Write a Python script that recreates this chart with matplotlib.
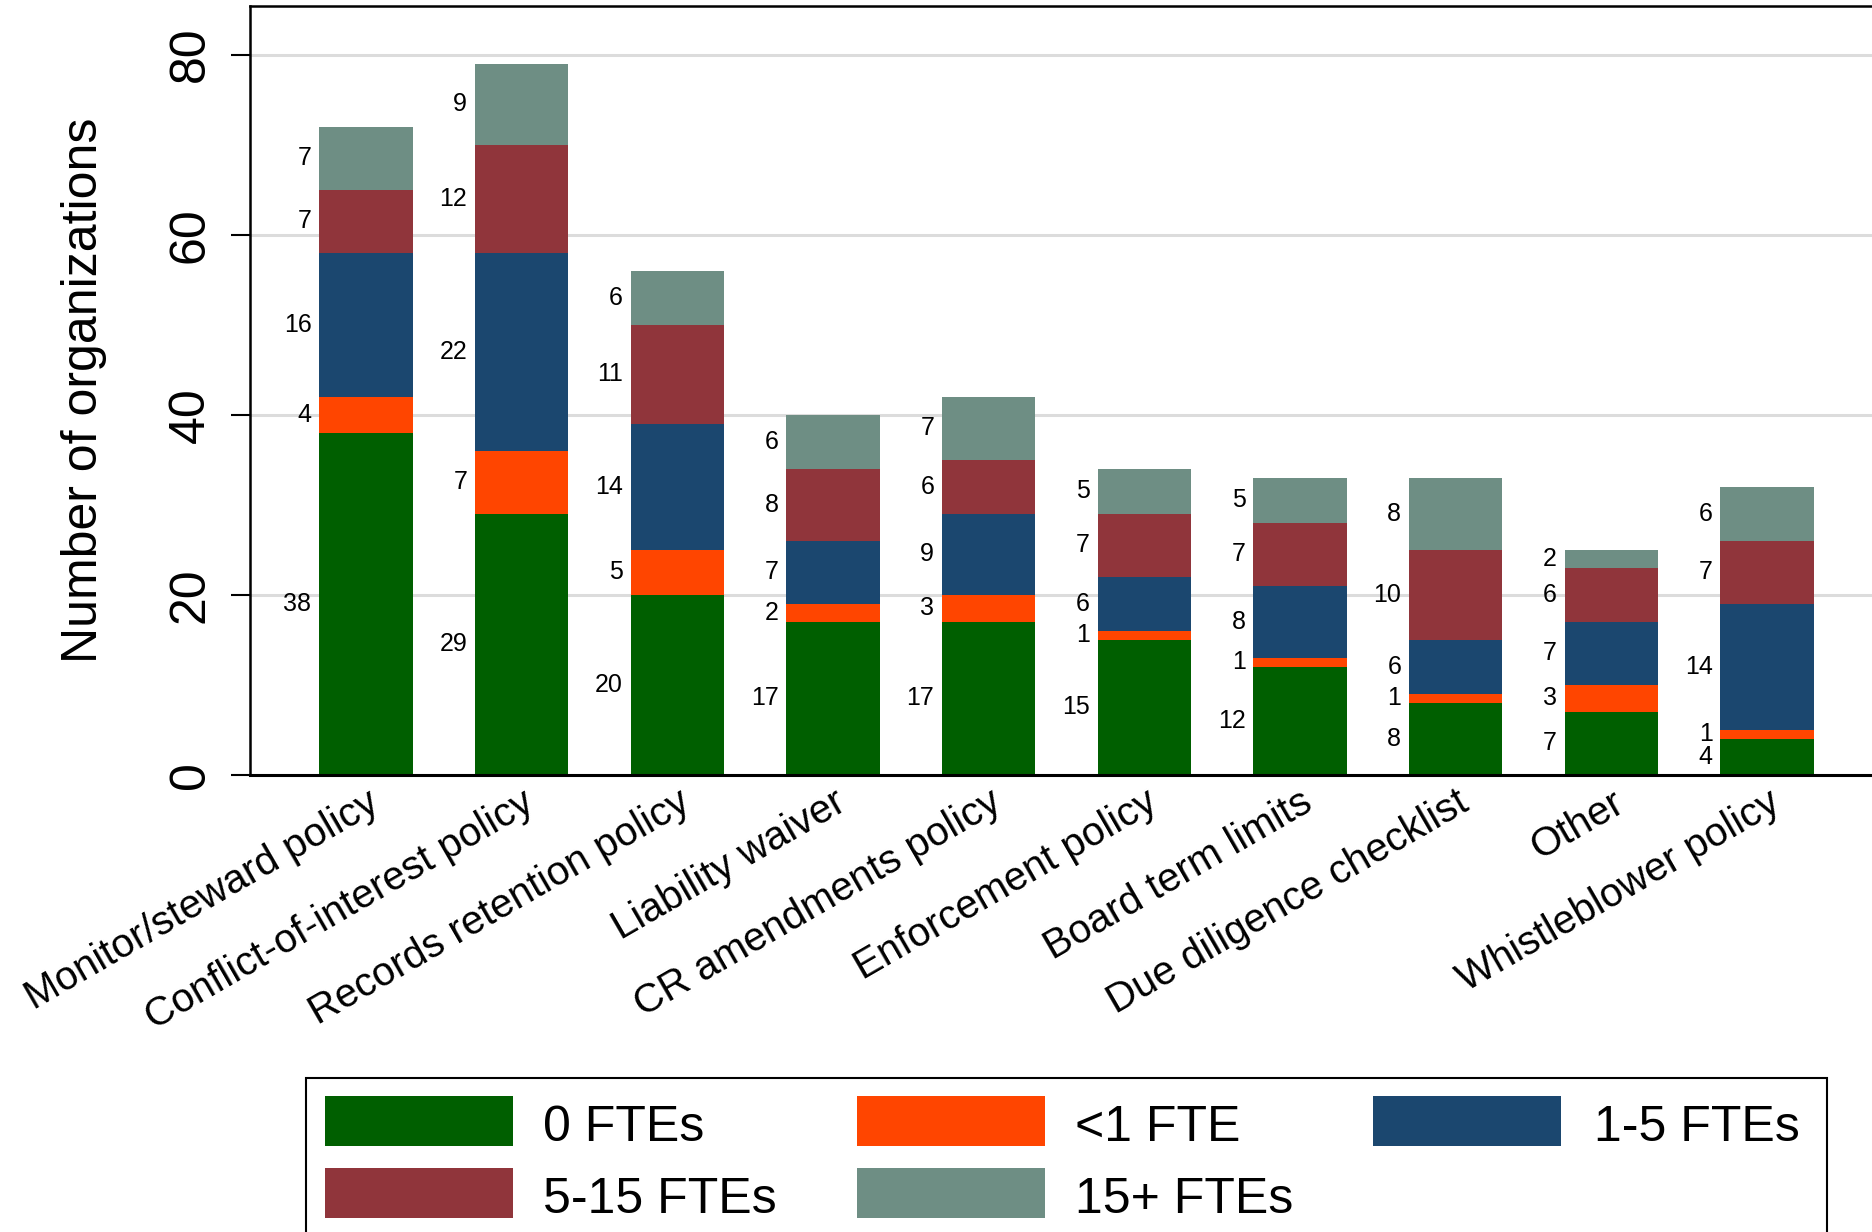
import numpy as np
import matplotlib
matplotlib.use("Agg")
import matplotlib.pyplot as plt
from matplotlib.patches import Rectangle

plt.rcParams['font.family'] = ['Liberation Sans', 'DejaVu Sans']

categories = ['Monitor/steward policy', 'Conflict-of-interest policy', 'Records retention policy',
              'Liability waiver', 'CR amendments policy', 'Enforcement policy',
              'Board term limits', 'Due diligence checklist', 'Other', 'Whistleblower policy']
series_names = ['0 FTEs', '<1 FTE', '1-5 FTEs', '5-15 FTEs', '15+ FTEs']
fte_0 = [38, 29, 20, 17, 17, 15, 12, 8, 7, 4]
fte_lt1 = [4, 7, 5, 2, 3, 1, 1, 1, 3, 1]
fte_1_5 = [16, 22, 14, 7, 9, 6, 8, 6, 7, 14]
fte_5_15 = [7, 12, 11, 8, 6, 7, 7, 10, 6, 7]
fte_15p = [7, 9, 6, 6, 7, 5, 5, 8, 2, 6]
colors = ['#005F00', '#FF4500', '#1B476F', '#90353B', '#6E8E84']

W, H = 1872, 1232
fig = plt.figure(figsize=(W / 100, H / 100), dpi=100)
ax = fig.add_axes([250 / W, 457 / H, (1883 - 250) / W, (775 - 6) / H])

x = np.arange(len(categories))
bottom = np.zeros(len(categories))
for name, vals, col in zip(series_names, [fte_0, fte_lt1, fte_1_5, fte_5_15, fte_15p], colors):
    vals = np.array(vals, dtype=float)
    ax.bar(x, vals, width=0.6, bottom=bottom, color=col, label=name, zorder=2)
    for xi, b, v in zip(x, bottom, vals):
        ax.text(xi - 0.35, b + v / 2, f'{int(v)}', ha='right', va='center', fontsize=18,
                family=['Liberation Sans Narrow', 'Liberation Sans'])
    bottom += vals

ax.set_xlim(-0.745, len(categories) - 1 + 0.745)
ax.set_ylim(0, 85.4)
ax.set_yticks([0, 20, 40, 60, 80])
ax.set_yticklabels(['0', '20', '40', '60', '80'], rotation=90, va='center', fontsize=36)
ax.tick_params(axis='y', length=14, width=1.5, pad=12)
ax.set_xticks(x)
ax.set_xticklabels(categories, rotation=30, ha='right', rotation_mode='anchor', fontsize=29)
ax.tick_params(axis='x', length=0, pad=6)
ax.yaxis.grid(True, color='#dcdcdc', linewidth=2.2, zorder=0)
ax.set_axisbelow(True)
ax.spines['right'].set_visible(False)
for s in ['left', 'top']:
    ax.spines[s].set_linewidth(1.8)
ax.spines['bottom'].set_linewidth(2.2)

ax.set_ylabel('Number of organizations', fontsize=36, va='center')
ax.yaxis.set_label_coords(-166 / (1883 - 250), 0.5)

# legend box, drawn by hand so that it runs off the bottom like the original
fig.patches.append(Rectangle((306 / W, -0.05), (1827 - 306) / W, (1232 - 1078) / H + 0.05,
                             transform=fig.transFigure, fill=False, edgecolor='black', linewidth=1.5))
patch_x = [325, 857, 1373]
text_x = [543, 1075, 1594]
row_top = [1096, 1168]
for k, (name, col) in enumerate(zip(series_names, colors)):
    r, c = divmod(k, 3)
    fig.patches.append(Rectangle((patch_x[c] / W, 1 - (row_top[r] + 50) / H), 188 / W, 50 / H,
                                 transform=fig.transFigure, facecolor=col, edgecolor='none'))
    fig.text(text_x[c] / W, 1 - (row_top[r] + 32) / H, name, va='center', ha='left', fontsize=36)

fig.savefig('out.png', dpi=100)
